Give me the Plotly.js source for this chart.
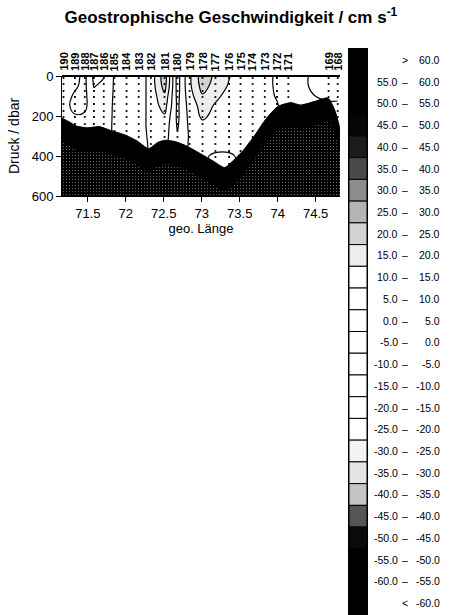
<!DOCTYPE html>
<html>
<head>
<meta charset="utf-8">
<script src="https://cdn.plot.ly/plotly-3.0.1.min.js"></script>
<style>
  html, body { margin: 0; padding: 0; background: #ffffff; }
  #chart { width: 450px; height: 615px; }
</style>
</head>
<body>
<div id="chart"></div>
<script>
// ---------- data ----------
const stations   = ['190','189','188','187','186','185','184','183','182','181','180',
                    '179','178','177','176','175','174','173','172','171','169','168'];
const stationLon = [71.18, 71.33, 71.46, 71.58, 71.71, 71.85, 72.01, 72.17, 72.33, 72.51, 72.68,
                    72.84, 73.01, 73.18, 73.36, 73.51, 73.67, 73.83, 73.99, 74.14, 74.67, 74.79];

const depthLevels = [0, 50, 100, 150, 200, 250, 300, 350, 400, 450, 500, 600];

// geostrophic velocity (cm/s) per station, at depthLevels
const vel190 = [2, 2, 2, 2.5, 3, 3, 3, 3, 3, 3, 3, 3];
const vel189 = [3, 4, 6, 7, 4.5, 3.5, 3, 3, 3, 3, 3, 3];
const vel188 = [7, 7, 7, 6.5, 4, 3, 3, 3, 3, 3, 3, 3];
const vel187 = [-7, -5.5, -2, 0, 1, 1.5, 2, 2, 2, 2, 2, 2];
const vel186 = [-5.5, -3, -0.5, 1, 1.5, 2, 2, 2, 2, 2, 2, 2];
const vel185 = [6, 6, 6, 6, 6, 6, 6, 6, 6, 6, 6, 6];
const vel184 = [7, 7, 7, 7, 7, 7, 7, 7, 7, 7, 7, 7];
const vel183 = [7, 7, 7, 7, 7, 7, 7, 7, 7, 7, 7, 7];
const vel182 = [12, 12, 12, 12, 12, 12, 11.5, 11, 11, 11, 11, 11];
const vel181 = [23, 22, 19, 17, 14.5, 13, 12, 11, 11, 11, 11, 11];
const vel180 = [3, 3, 3.5, 4, 4, 4.5, 5.5, 7, 8, 8, 8, 8];
const vel179 = [14, 14, 13, 12, 11.5, 11, 10.5, 10.5, 10.5, 10.5, 10.5, 10.5];
const vel178 = [23, 22, 19.5, 17, 16, 13.5, 12, 11, 10.5, 10.5, 10.5, 10.5];
const vel177 = [19, 18, 16, 14.5, 13.5, 12.5, 12, 11, 9.5, 9, 9, 9];
const vel176 = [15.3, 14.5, 13.5, 13, 12.5, 12, 11.5, 11, 9.5, 9, 9, 9];
const vel175 = [12, 12, 12, 12, 12, 12, 11.5, 11, 10.5, 10.5, 10.5, 10.5];
const vel174 = [12, 12, 12, 12, 12, 12, 12, 12, 12, 12, 12, 12];
const vel173 = [12, 12, 12, 12, 12, 12, 12, 12, 12, 12, 12, 12];
const vel172 = [9, 9, 9.5, 10.5, 11, 11, 11, 11, 11, 11, 11, 11];
const vel171 = [7, 7, 7, 7, 7, 7, 7, 7, 7, 7, 7, 7];
const vel169 = [3, 3, 4, 6, 6, 6, 6, 6, 6, 6, 6, 6];
const vel168 = [3, 3, 4, 6, 6, 6, 6, 6, 6, 6, 6, 6];
const velocityColumns = [vel190, vel189, vel188, vel187, vel186, vel185, vel184, vel183, vel182,
  vel181, vel180, vel179, vel178, vel177, vel176, vel175, vel174, vel173, vel172, vel171, vel169, vel168];

// sea floor (black area)
const bathyLon   = [71.16, 71.25, 71.35, 71.5, 71.65, 71.8, 72.0, 72.15, 72.3, 72.42, 72.52, 72.65,
                    72.8, 73.0, 73.15, 73.3, 73.4, 73.55, 73.7, 73.85, 74.0, 74.17, 74.3, 74.48,
                    74.66, 74.75, 74.82];
const bathyDepth = [211, 228, 250, 259, 253, 272, 296, 325, 363, 332, 321, 328,
                    350, 392, 425, 458, 428, 370, 295, 212, 153, 133, 145, 128,
                    110, 170, 270];

// CTD sample depths drawn as dots along each station
const sampleDepths = [10, 40, 75, 105, 140, 175, 205, 240, 275, 305, 340, 375, 405, 440, 475];

// legend classes (top to bottom)
const classEdges = [60, 55, 50, 45, 40, 35, 30, 25, 20, 15, 10, 5, 0,
                    -5, -10, -15, -20, -25, -30, -35, -40, -45, -50, -55, -60];
const classColors = ['#000000', '#000000', '#000000', '#060606', '#1c1c1c', '#4a4a4a', '#8c8c8c',
                     '#b4b4b4', '#d2d2d2', '#ededed', '#ffffff', '#ffffff', '#ffffff', '#ffffff',
                     '#ffffff', '#ffffff', '#ffffff', '#ffffff', '#f4f4f4', '#e4e4e4', '#c4c4c4',
                     '#555555', '#0a0a0a', '#000000', '#000000', '#000000'];

const xTicks = [71.5, 72, 72.5, 73, 73.5, 74, 74.5];
const yTicks = [0, 200, 400, 600];

// ---------- build ----------
const xRange = [71.16, 74.82];
const yMax = 600;
const levelStart = -60, levelEnd = 60, levelSize = 5;

const z = depthLevels.map((d, i) => velocityColumns.map(col => col[i]));

// colour scale for filled contours (band colour taken at band midpoint)
const lo0 = levelStart - levelSize / 2;
const span = (levelEnd - levelStart) + levelSize;
const frac = v => Math.min(1, Math.max(0, (v - lo0) / span));
const nRows = classColors.length;
const colorscale = [];
for (let r = nRows - 1; r >= 0; r--) {
  const lo = (r === nRows - 1) ? lo0 : classEdges[r];
  const hi = (r === 0) ? lo0 + span : classEdges[r - 1];
  colorscale.push([frac(lo), classColors[r]]);
  colorscale.push([frac(hi), classColors[r]]);
}

const fillTrace = {
  type: 'contour', x: stationLon, y: depthLevels, z: z,
  zmin: lo0, zmax: lo0 + span,
  colorscale: colorscale, showscale: false,
  contours: { start: levelStart, end: levelEnd, size: levelSize, coloring: 'fill', showlines: false },
  line: { width: 0, smoothing: 1 }, hoverinfo: 'skip'
};
const posLines = {
  type: 'contour', x: stationLon, y: depthLevels, z: z, showscale: false,
  contours: { start: 5, end: 60, size: 5, coloring: 'none' },
  line: { color: '#000', width: 1.2, smoothing: 1.3 }, hoverinfo: 'skip'
};
const negLines = {
  type: 'contour', x: stationLon, y: depthLevels, z: z, showscale: false,
  contours: { start: -60, end: -5, size: 5, coloring: 'none' },
  line: { color: '#000', width: 1.2, smoothing: 1.3 }, hoverinfo: 'skip'
};

const dotX = [], dotY = [];
stationLon.forEach(lon => sampleDepths.forEach(d => { dotX.push(lon); dotY.push(d); }));
const dots = {
  type: 'scatter', mode: 'markers', x: dotX, y: dotY,
  marker: { symbol: 'square', size: 1.8, color: '#000' }, hoverinfo: 'skip'
};

const floorX = bathyLon.concat([xRange[1], xRange[0]]);
const floorY = bathyDepth.concat([yMax, yMax]);
const floor = {
  type: 'scatter', mode: 'lines', x: floorX, y: floorY, fill: 'toself',
  fillcolor: '#000', line: { color: '#000', width: 1, shape: 'spline', smoothing: 0.6 },
  hoverinfo: 'skip'
};
const speckleOffset = 120;
const speckle = {
  type: 'scatter', mode: 'lines', x: floorX,
  y: bathyDepth.map(d => Math.min(d + speckleOffset, yMax)).concat([yMax, yMax]),
  fill: 'toself', line: { width: 0, shape: 'spline', smoothing: 0.6 },
  fillcolor: '#000',
  fillpattern: { shape: '.', bgcolor: '#000', fgcolor: '#7a7a7a', size: 3, solidity: 0.12 },
  hoverinfo: 'skip'
};

// legend boxes
const rowIdx = classColors.map((c, i) => i);
const legendBars = {
  type: 'bar', orientation: 'h', xaxis: 'x2', yaxis: 'y2',
  y: rowIdx, x: classColors.map(() => 1), width: 1,
  marker: { color: classColors, line: { color: '#000', width: 1 } },
  hoverinfo: 'skip'
};

const fmt = v => v.toFixed(1);
const annotations = [];
stations.forEach((s, i) => {
  annotations.push({
    x: stationLon[i], xref: 'x', y: 1, yref: 'y domain', yanchor: 'bottom', xanchor: 'center',
    yshift: 3, textangle: -90, showarrow: false, text: '<b>' + s + '</b>',
    font: { size: 11, color: '#000' }
  });
});
const legFont = { size: 10.5, color: '#000' };
for (let r = 0; r < nRows; r++) {
  let from = '', sym = '\u2013', to = '';
  if (r === 0) { sym = '>'; to = fmt(classEdges[0]); }
  else if (r === nRows - 1) { sym = '<'; to = fmt(classEdges[nRows - 2]); }
  else { from = fmt(classEdges[r]); to = fmt(classEdges[r - 1]); }
  if (from) annotations.push({ x: 0.889, xref: 'paper', y: r, yref: 'y2', xanchor: 'right',
    showarrow: false, text: from, font: legFont });
  annotations.push({ x: 0.90, xref: 'paper', y: r, yref: 'y2', xanchor: 'center',
    showarrow: false, text: sym, font: legFont });
  annotations.push({ x: 0.982, xref: 'paper', y: r, yref: 'y2', xanchor: 'right',
    showarrow: false, text: to, font: legFont });
}

const layout = {
  width: 450, height: 615,
  margin: { l: 0, r: 0, t: 0, b: 0 },
  paper_bgcolor: '#ffffff', plot_bgcolor: 'rgba(0,0,0,0)',
  font: { family: '"Liberation Sans", Arial, Helvetica, sans-serif', color: '#000' },
  showlegend: false,
  title: {
    text: '<b>Geostrophische Geschwindigkeit / cm s<sup>-1</sup></b>',
    font: { size: 17, color: '#000' },
    x: 0.513, xanchor: 'center', xref: 'paper', y: 0.972, yanchor: 'middle', yref: 'paper'
  },
  xaxis: {
    domain: [62 / 450, 340 / 450], range: xRange, tickvals: xTicks,
    ticktext: xTicks.map(v => String(v)),
    ticks: 'outside', ticklen: 5, tickwidth: 1, tickcolor: '#000',
    showline: true, linecolor: '#000', linewidth: 1,
    showgrid: false, zeroline: false, tickfont: { size: 13 },
    title: { text: 'geo. Länge', font: { size: 13 }, standoff: 2 }
  },
  yaxis: {
    domain: [1 - 196 / 615, 1 - 76 / 615], range: [yMax, 0], tickvals: yTicks,
    ticks: 'outside', ticklen: 5, tickwidth: 1, tickcolor: '#000',
    showline: true, linecolor: '#000', linewidth: 1,
    showgrid: false, zeroline: false, tickfont: { size: 13 },
    title: { text: 'Druck / dbar', font: { size: 14 }, standoff: 8 }
  },
  xaxis2: {
    domain: [349 / 450, 367 / 450], range: [0, 1], anchor: 'y2',
    showline: true, mirror: true, linecolor: '#000', linewidth: 1,
    showticklabels: false, ticks: '', showgrid: false, zeroline: false
  },
  yaxis2: {
    domain: [1 - 614 / 615, 1 - 49 / 615], range: [nRows - 0.5, -0.5], anchor: 'x2',
    showline: true, mirror: true, linecolor: '#000', linewidth: 1,
    showticklabels: false, ticks: '', showgrid: false, zeroline: false
  },
  bargap: 0,
  shapes: [{
    type: 'line', xref: 'x domain', yref: 'y domain', x0: 0, x1: 1, y0: 1, y1: 1,
    line: { color: '#000', width: 2 }
  }],
  annotations: annotations
};

Plotly.newPlot('chart', [fillTrace, posLines, negLines, dots, floor, speckle, legendBars], layout,
  { displayModeBar: false, staticPlot: true });
</script>
</body>
</html>
